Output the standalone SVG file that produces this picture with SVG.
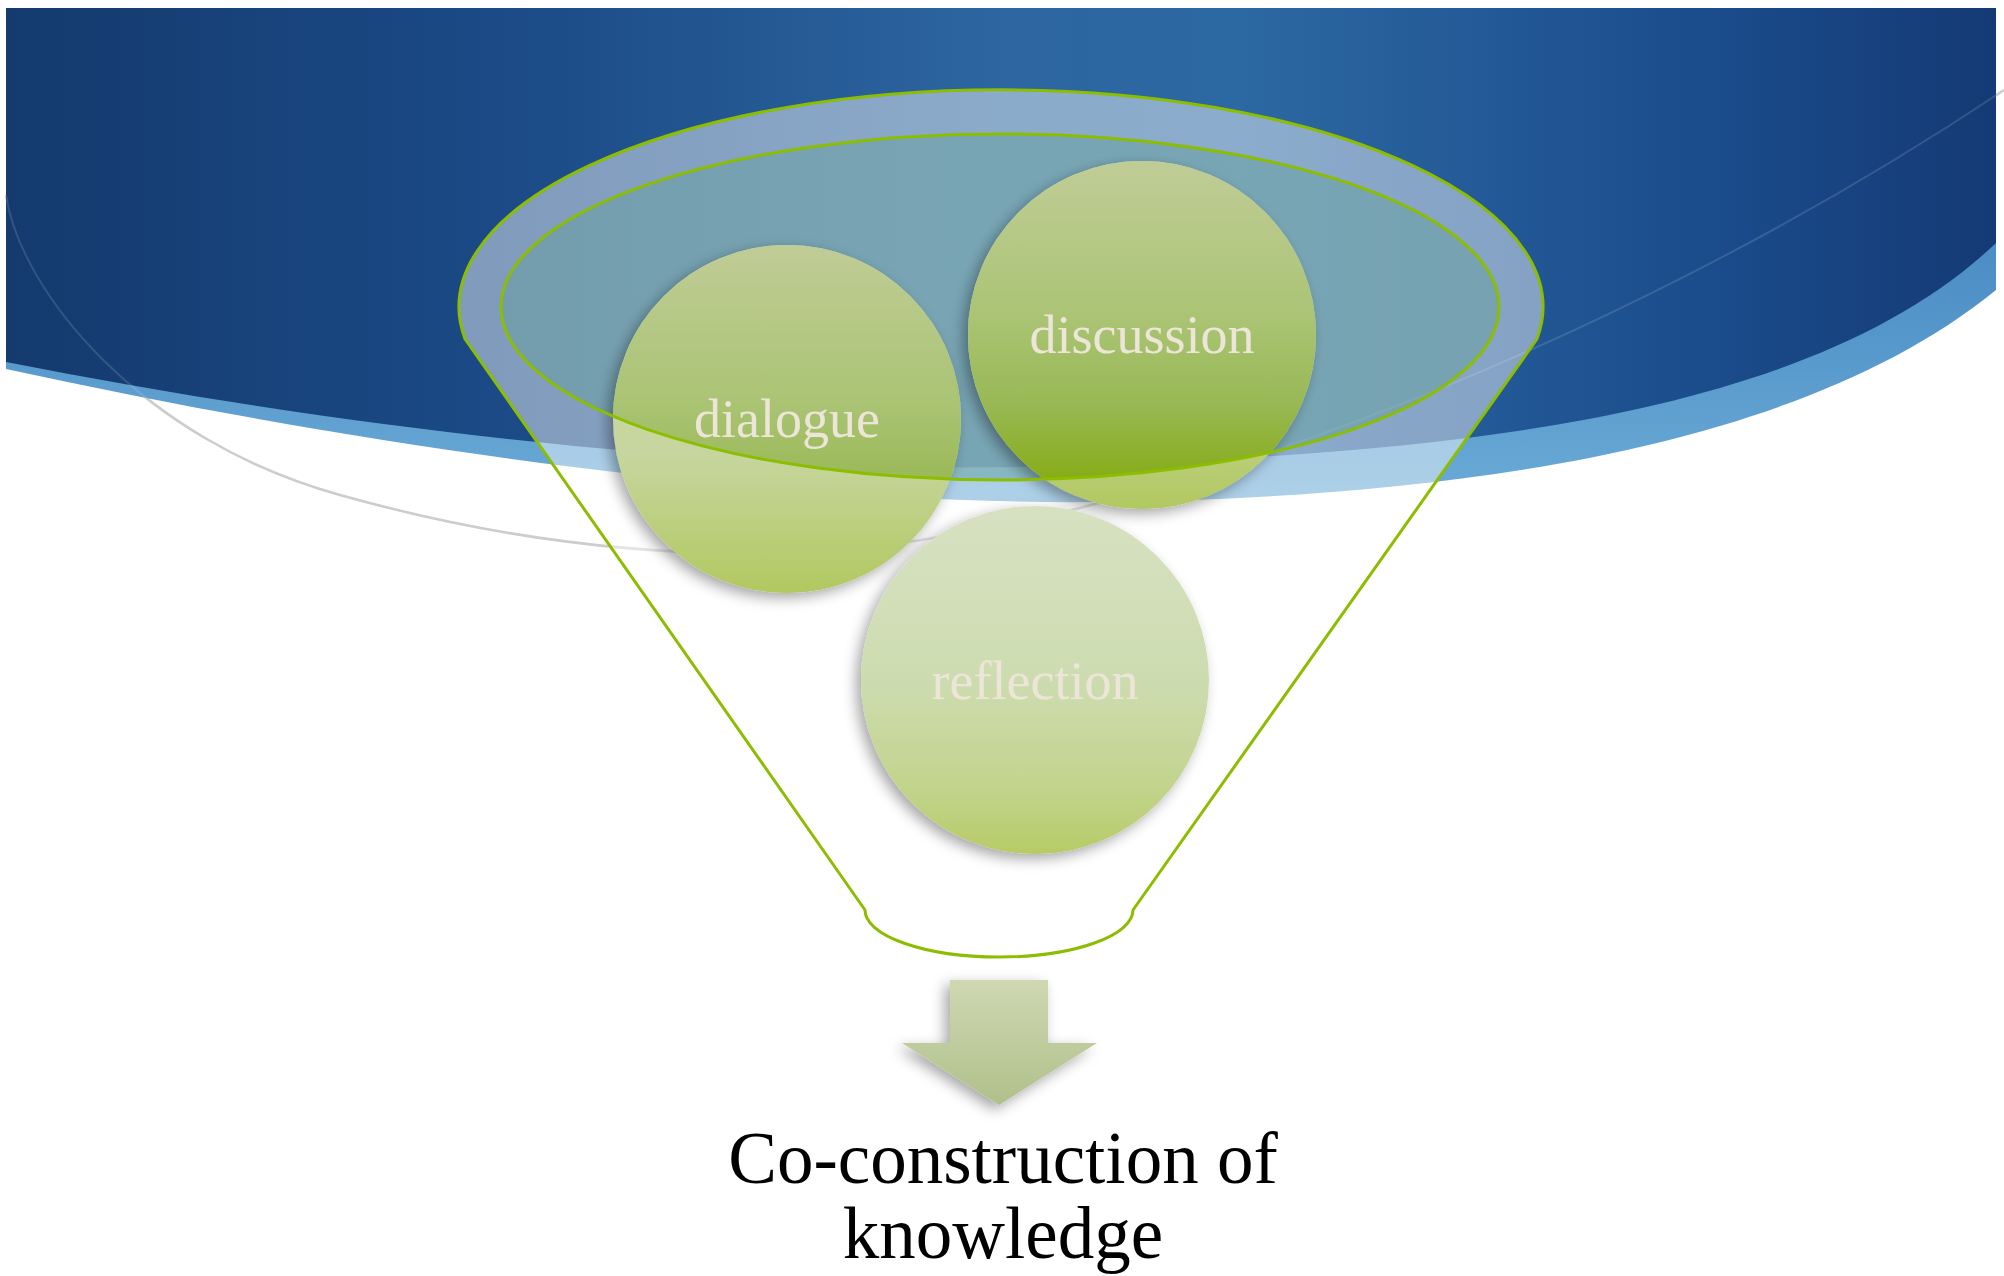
<svg xmlns="http://www.w3.org/2000/svg" width="2004" height="1276" viewBox="0 0 2004 1276">
<style>
.lbl{font-family:"Liberation Serif","Times New Roman",serif;font-size:54px;fill:#ece5d8;text-anchor:middle}
.out{font-family:"Liberation Serif","Times New Roman",serif;font-size:73px;fill:#000;text-anchor:middle}
.gl{fill:none;stroke:#8cbd00;stroke-width:3}
</style>
<defs>
<linearGradient id="bgGrad" gradientUnits="userSpaceOnUse" x1="0" y1="0" x2="2004" y2="0">
<stop offset="0" stop-color="#143a6e"/>
<stop offset="0.25" stop-color="#1b4a86"/>
<stop offset="0.5" stop-color="#2d66a0"/>
<stop offset="0.62" stop-color="#2c68a2"/>
<stop offset="0.85" stop-color="#1b4c8c"/>
<stop offset="1" stop-color="#143a74"/>
</linearGradient>
<linearGradient id="bandGrad" gradientUnits="userSpaceOnUse" x1="0" y1="240" x2="0" y2="500">
<stop offset="0" stop-color="#4a8cc4"/>
<stop offset="1" stop-color="#6aaad6"/>
</linearGradient>
<linearGradient id="circGrad" x1="0" y1="0" x2="0" y2="1">
<stop offset="0" stop-color="#ccd8a8"/>
<stop offset="0.6" stop-color="#c6d69e"/>
<stop offset="1" stop-color="#b2c860"/>
</linearGradient>
<linearGradient id="circIn" x1="0" y1="0" x2="0" y2="1">
<stop offset="0" stop-color="#c0cc96"/>
<stop offset="0.45" stop-color="#aac474"/>
<stop offset="0.7" stop-color="#98b854"/>
<stop offset="0.92" stop-color="#86ac16"/>
<stop offset="1" stop-color="#86ac16"/>
</linearGradient>
<linearGradient id="reflGrad" x1="0" y1="0" x2="0" y2="1">
<stop offset="0" stop-color="#d7e1c2"/>
<stop offset="0.5" stop-color="#cddcb0"/>
<stop offset="0.8" stop-color="#c3d48e"/>
<stop offset="1" stop-color="#b6cb66"/>
</linearGradient>
<linearGradient id="arrowGrad" x1="0" y1="0" x2="0" y2="1">
<stop offset="0" stop-color="#cfd8b2"/>
<stop offset="1" stop-color="#b0c08a"/>
</linearGradient>
<clipPath id="innerClip">
<ellipse cx="1000" cy="307" rx="499" ry="173"/>
</clipPath>
<filter id="shadow" x="-20%" y="-20%" width="140%" height="140%">
<feDropShadow dx="-5" dy="5" stdDeviation="7" flood-color="#000" flood-opacity="0.35"/>
</filter>
</defs>

<g id="background">
<path d="M6,195 C20,290 140,440 340,495 C500,540 650,556 780,553 C1100,545 1600,360 2004,90" fill="none" stroke="#c6c6c6" stroke-width="2.5"/>
<path d="M6,8 H1996 V290 C1800,450 1450,498 1100,502 C800,505 400,455 6,369 Z" fill="url(#bandGrad)"/>
<path d="M6,8 H1996 V243 C1800,430 1400,455 1050,466 C800,475 400,440 6,362 Z" fill="url(#bgGrad)"/>
<path d="M6,195 C20,290 140,440 340,495 C500,540 650,556 780,553 C1100,545 1600,360 2004,90" fill="none" stroke="#ffffff" stroke-opacity="0.13" stroke-width="2"/>
</g>

<g id="funnel">
<path d="M465,339 A542,217 0 1 1 1537,339 L1133,910 A134,47 0 0 1 865,910 Z" fill="#ffffff" fill-opacity="0.45"/>
<ellipse cx="1000" cy="307" rx="499" ry="173" fill="#66a09e" fill-opacity="0.5"/>
</g>

<g id="node-dialogue">
<circle cx="787" cy="419" r="174" fill="url(#circGrad)" filter="url(#shadow)"/>
<circle cx="787" cy="419" r="174" fill="url(#circIn)" clip-path="url(#innerClip)"/>
<text class="lbl" x="787" y="437">dialogue</text>
</g>

<g id="node-discussion">
<circle cx="1142" cy="335" r="174" fill="url(#circGrad)" filter="url(#shadow)"/>
<circle cx="1142" cy="335" r="174" fill="url(#circIn)" clip-path="url(#innerClip)"/>
<text class="lbl" x="1142" y="353">discussion</text>
</g>

<g id="node-reflection">
<circle cx="1035" cy="680" r="174" fill="url(#reflGrad)" filter="url(#shadow)"/>
<text class="lbl" x="1035" y="699">reflection</text>
</g>

<g id="funnel-outline">
<path class="gl" d="M465,339 A542,217 0 1 1 1537,339 L1133,910 A134,47 0 0 1 865,910 Z" stroke-linejoin="round"/>
<ellipse class="gl" cx="1000" cy="307" rx="499" ry="173"/>
</g>

<g id="connectors">
<polygon id="arrow" points="950,980 1048,980 1048,1043 1097,1043 999,1105 902,1043 950,1043" fill="url(#arrowGrad)" filter="url(#shadow)"/>
</g>

<g id="result">
<text class="out" x="1003" y="1183">Co-construction of</text>
<text class="out" x="1003" y="1258">knowledge</text>
</g>
</svg>
